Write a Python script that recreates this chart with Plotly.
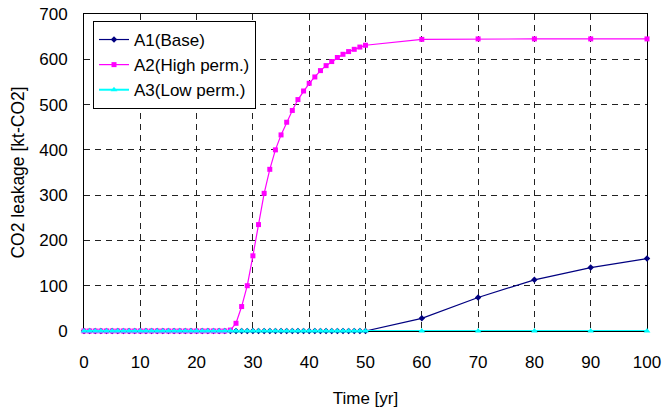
import plotly.graph_objects as go

# Time axis: yearly steps to 50 yr, then every 10 yr
years = list(range(0, 51)) + [60, 70, 80, 90, 100]

# Cumulative CO2 leakage [kt-CO2]
a1_base = [0] * 51 + [28, 74, 113, 140, 160]
a2_high = [0] * 26 + [2, 17, 54, 100, 166, 235, 304, 357, 400, 433,
                      461, 487, 511, 530, 547, 561, 575, 586, 595, 604,
                      611, 617, 622, 627, 631] + [644, 645, 645, 645, 645]
a3_low = [0] * 56

series_names = ["A1(Base)", "A2(High perm.)", "A3(Low perm.)"]
x_ticks = list(range(0, 101, 10))
y_ticks = list(range(0, 701, 100))

font_family = "Liberation Sans, Arial, sans-serif"

fig = go.Figure()
fig.add_trace(go.Scatter(
    x=years, y=a1_base, name=series_names[0], mode="lines+markers",
    line=dict(color="#000080", width=1.2),
    marker=dict(symbol="diamond", size=5, color="#000080"),
    cliponaxis=False,
))
fig.add_trace(go.Scatter(
    x=years, y=a2_high, name=series_names[1], mode="lines+markers",
    line=dict(color="#FF00FF", width=1.2),
    marker=dict(symbol="square", size=5, color="#FF00FF"),
    cliponaxis=False,
))
fig.add_trace(go.Scatter(
    x=years, y=a3_low, name=series_names[2], mode="lines+markers",
    line=dict(color="#00FFFF", width=2),
    marker=dict(symbol="triangle-up", size=6, color="#00FFFF"),
    cliponaxis=False,
))

axis_common = dict(
    showline=True, linecolor="black", linewidth=1, mirror=True,
    showgrid=True, gridcolor="#222222", gridwidth=1, griddash="6px,5px",
    zeroline=False, ticks="", automargin=False, layer="below traces",
    tickfont=dict(family=font_family, size=17, color="black"),
)

fig.update_xaxes(
    range=[0, 100], tickvals=x_ticks,
    title=dict(text="Time [yr]", font=dict(family=font_family, size=17, color="black"),
               standoff=20),
    ticklabelstandoff=16,
    **axis_common,
)
fig.update_yaxes(
    range=[0, 700], tickvals=y_ticks,
    title=dict(text="CO2 leakage [kt-CO2]",
               font=dict(family=font_family, size=17.5, color="black"), standoff=10),
    ticklabelstandoff=12,
    **axis_common,
)

fig.update_layout(
    width=664, height=413,
    margin=dict(l=84, r=17, t=14, b=82),
    paper_bgcolor="white", plot_bgcolor="white",
    font=dict(family=font_family, color="black"),
    legend=dict(
        x=0.016, y=0.978, xanchor="left", yanchor="top",
        bgcolor="white", bordercolor="black", borderwidth=1,
        font=dict(family=font_family, size=17, color="black"),
        itemwidth=30, tracegroupgap=0,
    ),
    showlegend=True,
)

fig.write_html("out.html")
